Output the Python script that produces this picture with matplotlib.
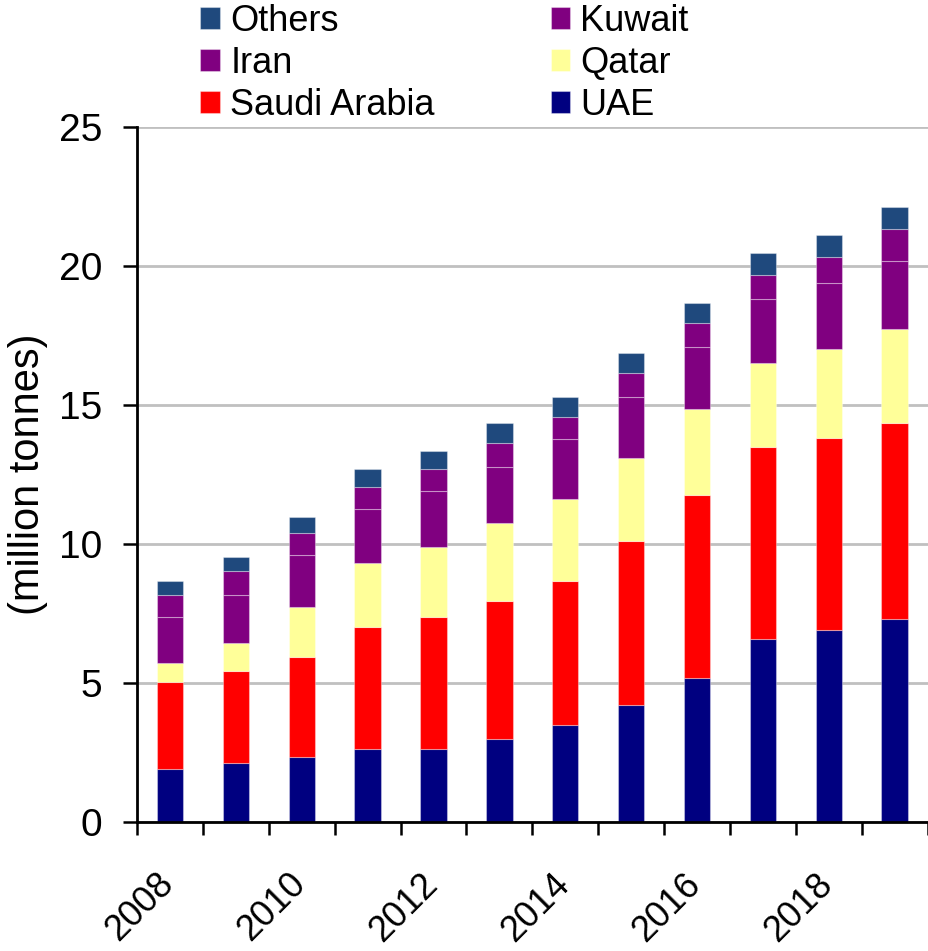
"""Stacked bar chart of Gulf production by country."""

import matplotlib
matplotlib.use("Agg")
import matplotlib.pyplot as plt
import matplotlib.transforms as mtransforms
import numpy as np
from matplotlib.ticker import FixedLocator

years = list(range(2008, 2020))
uae = [1.90, 2.11, 2.34, 2.63, 2.63, 2.97, 3.48, 4.20, 5.18, 6.58, 6.92, 7.29]
saudi = [3.14, 3.31, 3.58, 4.38, 4.73, 4.98, 5.18, 5.90, 6.59, 6.90, 6.91, 7.06]
qatar = [0.67, 1.02, 1.80, 2.30, 2.52, 2.79, 2.95, 3.00, 3.08, 3.02, 3.17, 3.38]
iran = [1.65, 1.71, 1.87, 1.94, 2.02, 2.02, 2.16, 2.17, 2.23, 2.30, 2.39, 2.45]
kuwait = [0.79, 0.87, 0.79, 0.79, 0.79, 0.86, 0.79, 0.87, 0.86, 0.87, 0.93, 1.14]
others = [0.52, 0.50, 0.58, 0.65, 0.66, 0.72, 0.72, 0.74, 0.73, 0.80, 0.80, 0.79]

series = [
    ("UAE", uae, "#000080"),
    ("Saudi Arabia", saudi, "#ff0000"),
    ("Qatar", qatar, "#ffff99"),
    ("Iran", iran, "#800080"),
    ("Kuwait", kuwait, "#800080"),
    ("Others", others, "#1f497d"),
]

plt.rcParams["font.family"] = ["Liberation Sans", "DejaVu Sans"]

fig = plt.figure(figsize=(9.29, 9.51), dpi=100)
ax = fig.add_axes([0.1475, 0.1356, 0.851, 0.7309])

x = np.arange(len(years))
bottom = np.zeros(len(years))
handles = {}
for name, vals, color in series:
    vals = np.array(vals)
    bars = ax.bar(x, vals, width=0.4, bottom=bottom, color=color,
                  edgecolor=(1, 1, 1, 0.35), linewidth=0.8, zorder=2)
    handles[name] = bars
    bottom += vals

ax.set_xlim(-0.5, len(years) - 0.5)
ax.set_ylim(0, 25)
ax.set_yticks([0, 5, 10, 15, 20, 25])
ax.yaxis.grid(True, color="#c0c0c0", linewidth=2)
ax.set_axisbelow(True)

for side in ["top", "right"]:
    ax.spines[side].set_visible(False)
for side in ["left", "bottom"]:
    ax.spines[side].set_linewidth(2)

ax.set_xticks(x[::2])
ax.set_xticklabels([str(y) for y in years[::2]], rotation=45, ha="right",
                   va="top", rotation_mode="default", fontsize=26)
ax.xaxis.set_minor_locator(FixedLocator(np.arange(-0.5, len(years), 1.0)))
ax.tick_params(axis="x", which="major", length=0, pad=32)
ax.tick_params(axis="x", which="minor", length=9.5, width=1.8, direction="out")
ax.tick_params(axis="y", length=10, width=1.8, labelsize=28, pad=15)

# nudge year labels right (after tick_params, which resets transforms)
shift = mtransforms.ScaledTranslation(0.11, 0, fig.dpi_scale_trans)
for lbl in ax.get_xticklabels():
    lbl.set_transform(lbl.get_transform() + shift)

ax.set_ylabel("(million tonnes)", fontsize=30)
ax.yaxis.set_label_coords(-0.1125, 0.5)

order = ["Others", "Iran", "Saudi Arabia", "Kuwait", "Qatar", "UAE"]
fig.legend([handles[n] for n in order], order, ncol=2, frameon=False,
           fontsize=26, loc="upper left", bbox_to_anchor=(0.1925, 1.019),
           handlelength=0.55, handleheight=0.55, handletextpad=0.28,
           columnspacing=3.2, labelspacing=0.2, borderpad=0.1)

fig.savefig("out.png", dpi=100)
